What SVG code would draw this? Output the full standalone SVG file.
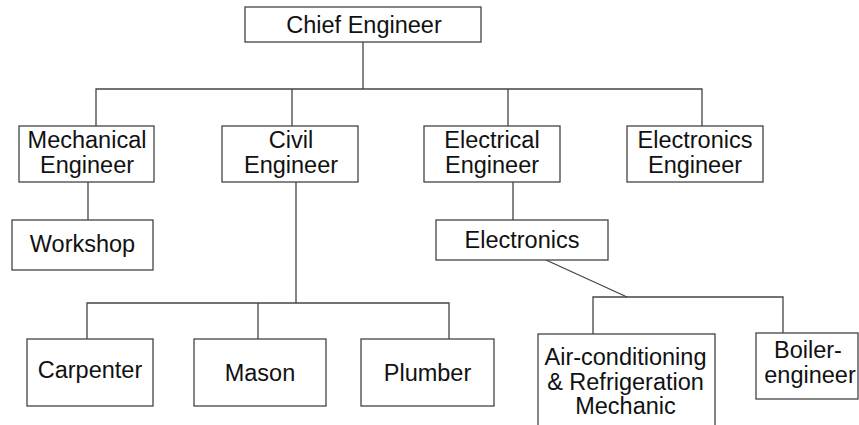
<svg xmlns="http://www.w3.org/2000/svg" width="859" height="425" viewBox="0 0 859 425">
<style>
rect{fill:#fff;stroke:#444;stroke-width:1.3}
.c path,.c line{fill:none;stroke:#444;stroke-width:1.3}
text{font-family:"Liberation Sans",Arial,sans-serif;font-size:23.5px;fill:#111;text-anchor:middle}
</style>
<rect x="0" y="0" width="859" height="425" style="stroke:none"/>
<g class="c" id="connectors">
<line x1="363" y1="42" x2="363" y2="89"/>
<path d="M96 126V89H702V126"/>
<line x1="292" y1="89" x2="292" y2="126"/>
<line x1="508" y1="89" x2="508" y2="126"/>
<line x1="88" y1="182" x2="88" y2="220"/>
<line x1="296" y1="182" x2="296" y2="303"/>
<path d="M87 339V303H449V339"/>
<line x1="258" y1="303" x2="258" y2="339"/>
<line x1="513" y1="182" x2="513" y2="220"/>
<line x1="546" y1="260" x2="627" y2="297"/>
<path d="M593 334V297H783V333"/>
</g>
<g id="chief"><rect x="245" y="7" width="236" height="35"/><text x="364" y="33">Chief Engineer</text></g>
<g id="mechanical"><rect x="19" y="126" width="135" height="56"/><text x="87" y="148">Mechanical</text><text x="87" y="173">Engineer</text></g>
<g id="civil"><rect x="222" y="126" width="136" height="56"/><text x="291" y="148">Civil</text><text x="291" y="173">Engineer</text></g>
<g id="electrical"><rect x="424" y="126" width="136" height="56"/><text x="492" y="148">Electrical</text><text x="492" y="173">Engineer</text></g>
<g id="electronics-engineer"><rect x="627" y="126" width="136" height="56"/><text x="695" y="148">Electronics</text><text x="695" y="173">Engineer</text></g>
<g id="workshop"><rect x="12" y="220" width="141" height="50"/><text x="82.5" y="252">Workshop</text></g>
<g id="electronics"><rect x="436" y="220" width="172" height="40"/><text x="522" y="248">Electronics</text></g>
<g id="carpenter"><rect x="27" y="339" width="126" height="67"/><text x="90" y="378">Carpenter</text></g>
<g id="mason"><rect x="194" y="339" width="132" height="67"/><text x="260" y="381">Mason</text></g>
<g id="plumber"><rect x="361" y="339" width="133" height="67"/><text x="427.5" y="381">Plumber</text></g>
<g id="aircon"><rect x="538" y="334" width="177" height="100"/><text x="625.5" y="365">Air-conditioning</text><text x="625.5" y="390">&amp; Refrigeration</text><text x="625.5" y="414">Mechanic</text></g>
<g id="boiler"><rect x="756" y="333" width="102" height="66"/><text x="808" y="358">Boiler-</text><text x="810" y="383">engineer</text></g>
</svg>
